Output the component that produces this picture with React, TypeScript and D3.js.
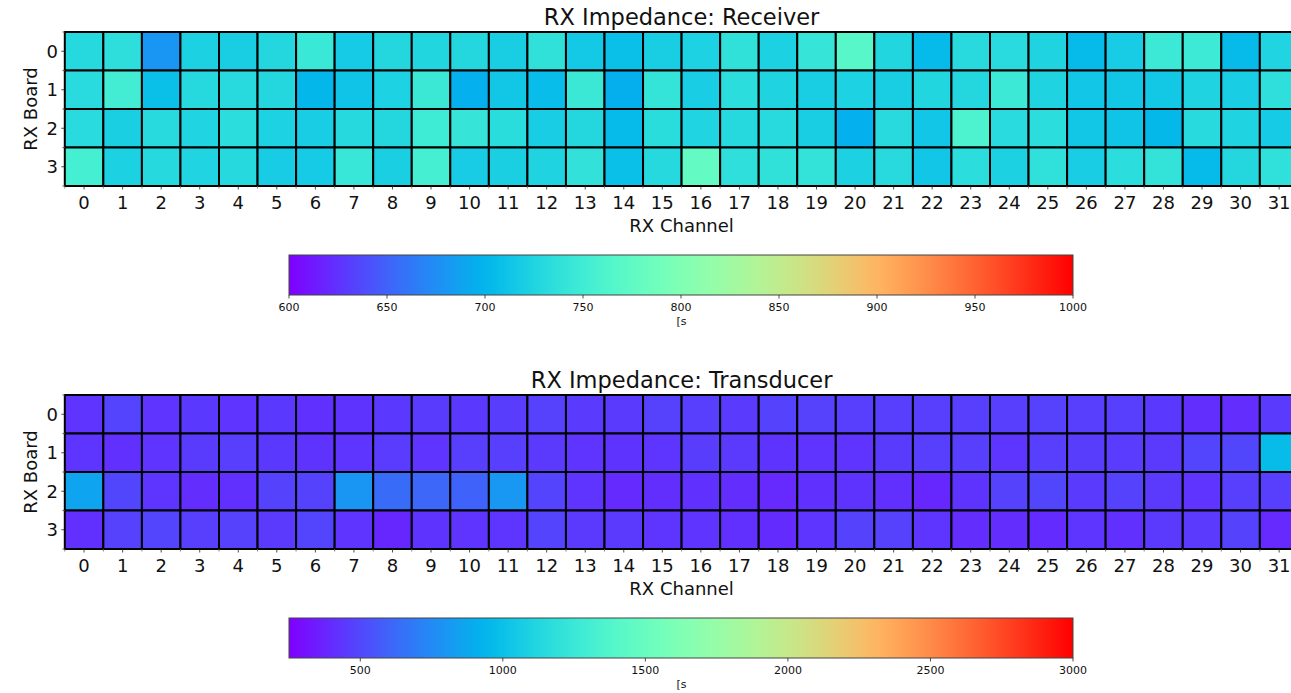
import React from 'react';
import * as d3 from 'd3';

const CHANNELS = d3.range(32);
const BOARDS = [0, 1, 2, 3];

// RX Impedance: Receiver, one array per board (channels 0..31)
const RECEIVER_B0 = [730, 735, 680, 722, 720, 728, 745, 717, 728, 727, 728, 720, 738, 716, 708, 720,
  723, 738, 722, 742, 768, 727, 705, 731, 732, 724, 705, 718, 747, 748, 705, 725];
const RECEIVER_B1 = [732, 752, 708, 730, 731, 728, 702, 712, 723, 746, 697, 714, 706, 746, 696, 741,
  719, 734, 724, 720, 723, 720, 727, 728, 747, 724, 713, 714, 715, 724, 719, 736];
const RECEIVER_B2 = [732, 721, 731, 725, 734, 723, 719, 730, 728, 749, 742, 733, 719, 728, 705, 733,
  725, 730, 731, 720, 697, 731, 713, 760, 732, 734, 714, 712, 703, 731, 724, 717];
const RECEIVER_B3 = [754, 722, 730, 725, 730, 718, 717, 744, 721, 754, 718, 721, 724, 739, 708, 730,
  778, 736, 738, 740, 722, 731, 713, 734, 722, 737, 719, 734, 740, 705, 728, 737];

// RX Impedance: Transducer
const TRANSDUCER_B0 = [430, 485, 430, 445, 430, 445, 420, 425, 445, 455, 445, 460, 475, 450, 450, 475,
  470, 450, 480, 475, 470, 465, 470, 470, 470, 475, 465, 465, 445, 410, 405, 450];
const TRANSDUCER_B1 = [435, 415, 430, 455, 465, 445, 428, 435, 458, 430, 465, 465, 448, 430, 428, 435,
  462, 448, 428, 430, 430, 455, 470, 465, 435, 465, 462, 458, 448, 490, 495, 975];
const TRANSDUCER_B2 = [860, 495, 435, 405, 415, 480, 478, 800, 630, 615, 600, 810, 485, 430, 395, 410,
  420, 405, 390, 420, 428, 412, 385, 428, 480, 495, 450, 480, 448, 430, 465, 465];
const TRANSDUCER_B3 = [415, 475, 488, 465, 475, 448, 490, 430, 385, 425, 430, 435, 485, 448, 448, 435,
  430, 412, 398, 435, 480, 475, 435, 405, 405, 398, 435, 412, 448, 448, 480, 390];

const RECEIVER = [RECEIVER_B0, RECEIVER_B1, RECEIVER_B2, RECEIVER_B3];
const TRANSDUCER = [TRANSDUCER_B0, TRANSDUCER_B1, TRANSDUCER_B2, TRANSDUCER_B3];

const RECEIVER_DOMAIN = [600, 1000];
const TRANSDUCER_DOMAIN = [250, 3000];
const RECEIVER_TICKS = [600, 650, 700, 750, 800, 850, 900, 950, 1000];
const TRANSDUCER_TICKS = [500, 1000, 1500, 2000, 2500, 3000];

const W = 1291;
const H = 693;
const FONT = '"DejaVu Sans", sans-serif';

// matplotlib "rainbow"
function rainbow(t: number) {
  const v = Math.max(0, Math.min(1, t));
  const r = Math.min(1, Math.abs(2 * v - 0.5));
  const g = Math.sin(Math.PI * v);
  const b = Math.cos((Math.PI * v) / 2);
  return d3.rgb(r * 255, g * 255, b * 255).formatHex();
}

const x = d3.scaleBand<number>().domain(CHANNELS).range([64.8, 64.8 + 32 * 38.55]);
const cbX = d3.scaleLinear().range([289, 1073]);

function Panel({ id, title, data, domain, ticks, top, cbTop }: any) {
  const y = d3.scaleBand<number>().domain(BOARDS).range([top, top + 4 * 38.5]);
  const bottom = top + 4 * 38.5;
  const norm = d3.scaleLinear().domain(domain).range([0, 1]);
  const cb = cbX.copy().domain(domain);
  const cbH = 40;
  const stops = d3.range(0, 1.0001, 0.02);
  const xl = x.range()[0];
  const xr = x.range()[1];
  const cx = (xl + xr) / 2;
  const bounds = [...CHANNELS.map(c => x(c)!), xr];
  const ybounds = [...BOARDS.map(b => y(b)!), bottom];

  return (
    <g>
      <defs>
        <linearGradient id={id} x1="0" x2="1" y1="0" y2="0">
          {stops.map(s => <stop key={s} offset={s} stopColor={rainbow(s)} />)}
        </linearGradient>
      </defs>
      <text x={cx} y={top - 7} textAnchor="middle" fontSize={22.5} fill="#111">{title}</text>
      {BOARDS.map(b => CHANNELS.map(c => (
        <rect key={`${b}-${c}`} x={x(c)} y={y(b)} width={x.bandwidth()} height={y.bandwidth()}
          fill={rainbow(norm(data[b][c]))} stroke="#000" strokeWidth={2} />
      )))}
      {/* minor ticks at cell edges, major at centres */}
      {bounds.map((v, i) => <line key={'mx' + i} x1={v} x2={v} y1={bottom} y2={bottom + 2.5} stroke="#666" strokeWidth={0.8} />)}
      {ybounds.map((v, i) => <line key={'my' + i} x1={xl - 2.5} x2={xl} y1={v} y2={v} stroke="#666" strokeWidth={0.8} />)}
      {CHANNELS.map(c => (
        <g key={'tx' + c}>
          <line x1={x(c)! + x.bandwidth() / 2} x2={x(c)! + x.bandwidth() / 2} y1={bottom} y2={bottom + 3.5} stroke="#222" strokeWidth={0.8} />
          <text x={x(c)! + x.bandwidth() / 2} y={bottom + 23} textAnchor="middle" fontSize={18} fill="#111">{c}</text>
        </g>
      ))}
      {BOARDS.map(b => (
        <g key={'ty' + b}>
          <line x1={xl - 3.5} x2={xl} y1={y(b)! + y.bandwidth() / 2} y2={y(b)! + y.bandwidth() / 2} stroke="#222" strokeWidth={0.8} />
          <text x={58} y={y(b)! + y.bandwidth() / 2 + 6.5} textAnchor="end" fontSize={18} fill="#111">{b}</text>
        </g>
      ))}
      <text x={cx} y={bottom + 46} textAnchor="middle" fontSize={18} fill="#111">RX Channel</text>
      <text transform={`translate(37,${(top + bottom) / 2}) rotate(-90)`} textAnchor="middle" fontSize={18} fill="#111">RX Board</text>

      <rect x={cb.range()[0]} y={cbTop} width={cb.range()[1] - cb.range()[0]} height={cbH} fill={`url(#${id})`} stroke="#444" strokeWidth={1} />
      {ticks.map((t: number) => (
        <g key={'cb' + t}>
          <line x1={cb(t)} x2={cb(t)} y1={cbTop + cbH} y2={cbTop + cbH + 3.5} stroke="#222" strokeWidth={0.8} />
          <text x={cb(t)} y={cbTop + cbH + 16} textAnchor="middle" fontSize={11} fill="#111">{t}</text>
        </g>
      ))}
      <text x={cx} y={cbTop + cbH + 30} textAnchor="middle" fontSize={11} fill="#111">[s</text>
    </g>
  );
}

export default function App() {
  return (
    <div style={{ position: 'absolute', left: 0, top: 0, width: W, height: H, overflow: 'hidden', background: '#fff' }}>
      <svg width={W} height={H} style={{ display: 'block', fontFamily: FONT }}>
        <rect width={W} height={H} fill="#fff" />
        <Panel id="cbRec" title="RX Impedance: Receiver" data={RECEIVER} domain={RECEIVER_DOMAIN}
          ticks={RECEIVER_TICKS} top={32} cbTop={255} />
        <Panel id="cbTra" title="RX Impedance: Transducer" data={TRANSDUCER} domain={TRANSDUCER_DOMAIN}
          ticks={TRANSDUCER_TICKS} top={395} cbTop={618} />
      </svg>
    </div>
  );
}
